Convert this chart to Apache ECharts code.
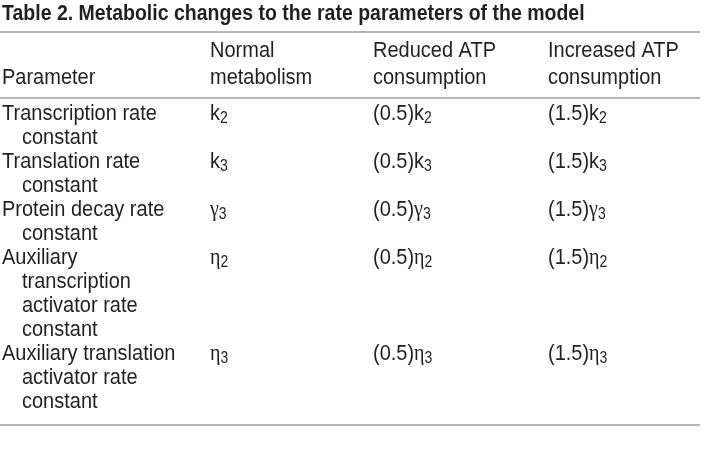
<!DOCTYPE html>
<html><head><meta charset="utf-8">
<script src="https://cdn.jsdelivr.net/npm/echarts@6/dist/echarts.min.js"></script>
<style>html,body{margin:0;padding:0;background:#fff}#c{width:704px;height:458px}</style>
</head><body><div id="c"></div>
<script>
// ---- data ----
const tableTitle = 'Table 2. Metabolic changes to the rate parameters of the model';
const headers = [['', 'Parameter'], ['Normal', 'metabolism'], ['Reduced ATP', 'consumption'], ['Increased ATP', 'consumption']];
const parameters = [
  ['Transcription rate', 'constant'],
  ['Translation rate', 'constant'],
  ['Protein decay rate', 'constant'],
  ['Auxiliary', 'transcription', 'activator rate', 'constant'],
  ['Auxiliary translation', 'activator rate', 'constant']
];
const symbolBase = ['k', 'k', 'γ', 'η', 'η'];
const symbolSub = ['2', '3', '3', '2', '3'];
const reducedFactor = ['0.5', '0.5', '0.5', '0.5', '0.5'];
const increasedFactor = ['1.5', '1.5', '1.5', '1.5', '1.5'];

// ---- layout (style) ----
const W = 704, H = 458;
const colX = [2, 210, 373, 548];
const indent = 20;
const titleY = 14;
const headerY = [51, 78];
const firstRowY = 114;
const lineH = 24;
const ruleX0 = 0, ruleX1 = 700;
const topRuleY = 32, headRuleY = 98, bottomRuleY = 425;
const textColor = '#231f20';
const bodyFont = '20px "Liberation Sans", Arial, sans-serif';
const titleFont = 'bold 19.5px "Liberation Sans", Arial, sans-serif';
const bodyStretch = 1.13, titleStretch = 1.15;

const greek = s => /[γη]/.test(s);
function symText(b, s, factor) {
  const base = greek(b) ? '{g|' + b + '}' : b;
  return (factor ? '(' + factor + ')' : '') + base + '{s|' + s + '}';
}

// build cells
const cells = [];
cells.push({ x: colX[0], y: titleY, text: tableTitle, font: titleFont, sy: titleStretch });
headers.forEach((h, c) => h.forEach((t, l) => { if (t) cells.push({ x: colX[c], y: headerY[l], text: t, font: bodyFont, sy: bodyStretch }); }));
let line = 0;
parameters.forEach((p, r) => {
  const y0 = firstRowY + line * lineH;
  p.forEach((t, l) => cells.push({ x: colX[0] + (l ? indent : 0), y: firstRowY + (line + l) * lineH, text: t, font: bodyFont, sy: bodyStretch }));
  cells.push({ x: colX[1], y: y0, text: symText(symbolBase[r], symbolSub[r], ''), font: bodyFont, sy: bodyStretch });
  cells.push({ x: colX[2], y: y0, text: symText(symbolBase[r], symbolSub[r], reducedFactor[r]), font: bodyFont, sy: bodyStretch });
  cells.push({ x: colX[3], y: y0, text: symText(symbolBase[r], symbolSub[r], increasedFactor[r]), font: bodyFont, sy: bodyStretch });
  line += p.length;
});
const rules = [topRuleY, headRuleY, bottomRuleY];

const rich = {
  s: { fontSize: 14, fontFamily: '"Liberation Sans", Arial, sans-serif', padding: [9, 0, 0, 0], color: textColor },
  g: { fontSize: 20, fontFamily: '"Liberation Serif", "Times New Roman", serif', color: textColor }
};

const chart = echarts.init(document.getElementById('c'), null, { renderer: 'canvas' });
chart.setOption({
  animation: false,
  backgroundColor: '#fff',
  grid: { left: 0, right: 0, top: 0, bottom: 0 },
  xAxis: { type: 'value', min: 0, max: W, show: false },
  yAxis: { type: 'value', min: 0, max: H, inverse: true, show: false },
  series: [
    {
      type: 'custom', silent: true,
      data: rules.map(y => [ruleX0, y, ruleX1]),
      renderItem: (params, api) => {
        const a = api.coord([api.value(0), api.value(1)]);
        const b = api.coord([api.value(2), api.value(1)]);
        return { type: 'line', shape: { x1: a[0], y1: a[1], x2: b[0], y2: b[1] }, style: { stroke: '#9b9b9b', lineWidth: 1.6 } };
      }
    },
    {
      type: 'custom', silent: true,
      data: cells.map((c, i) => [c.x, c.y, i]),
      renderItem: (params, api) => {
        const c = cells[api.value(2)];
        const p = api.coord([api.value(0), api.value(1)]);
        return {
          type: 'text', x: p[0], y: p[1], scaleY: c.sy,
          style: { text: c.text, font: c.font, fill: textColor, align: 'left', verticalAlign: 'middle', rich: rich }
        };
      }
    }
  ]
});
</script></body></html>
